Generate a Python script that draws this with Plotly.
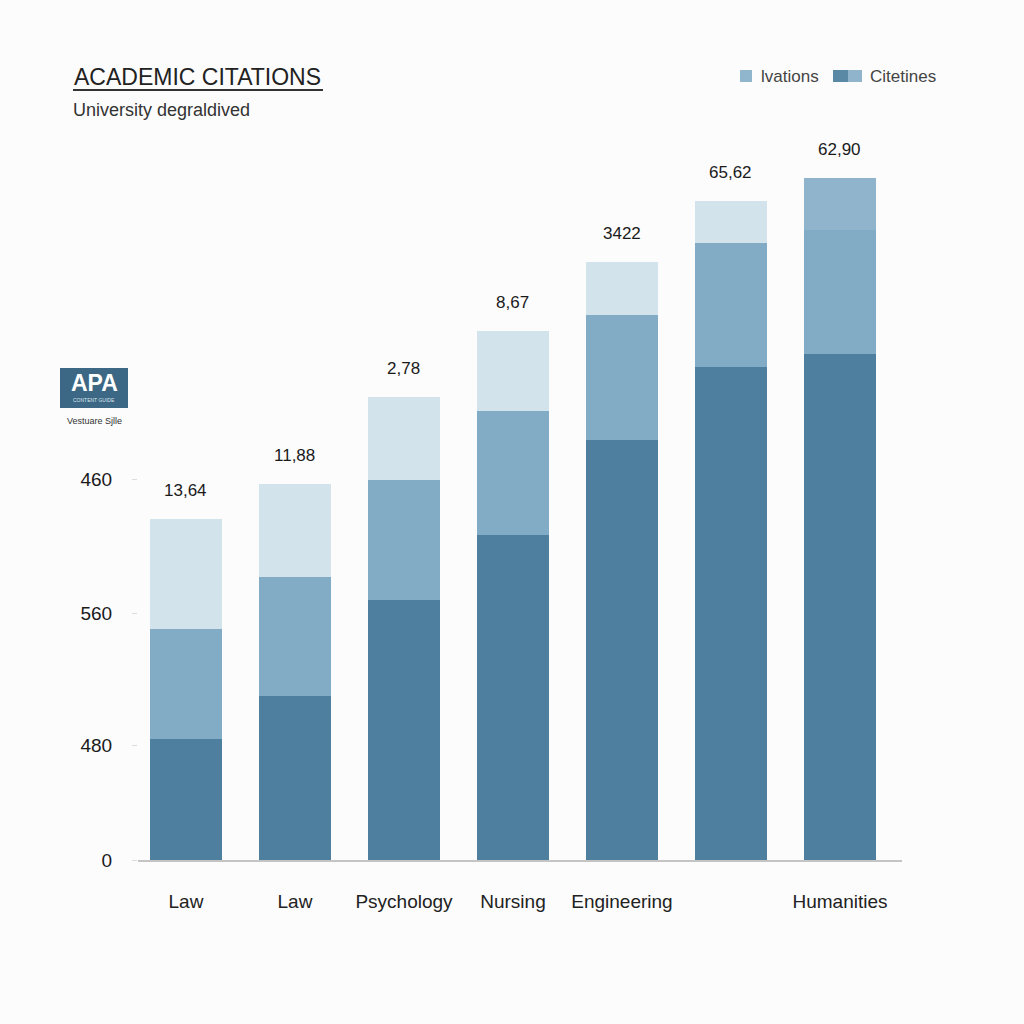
import plotly.graph_objects as go

# ---- data ----
categories = ["Law", "Law", "Psychology", "Nursing", "Engineering", "", "Humanities"]
base_values = [121, 164, 260, 325, 420, 493, 506]
middle_values = [110, 119, 120, 124, 125, 124, 124]
top_values = [110, 93, 83, 80, 53, 42, 52]
value_labels = ["13,64", "11,88", "2,78", "8,67", "3422", "65,62", "62,90"]
y_tick_vals = [0, 115, 247, 381]
y_tick_text = ["0", "480", "560", "460"]
legend_names = ["lvations", "Citetines"]

DARK = "#4e7f9e"
MID = "#82abc5"
LIGHT = "#d3e3ec"
top_colors = [LIGHT] * 6 + ["#8fb4cc"]

x = list(range(len(categories)))
FONT = "Liberation Sans, Arial, sans-serif"

fig = go.Figure()
fig.add_trace(go.Bar(x=x, y=base_values, marker=dict(color=DARK, line=dict(width=0)),
                     width=0.66, showlegend=False, hoverinfo="y"))
fig.add_trace(go.Bar(x=x, y=middle_values, marker=dict(color=MID, line=dict(width=0)),
                     width=0.66, showlegend=False, hoverinfo="y"))
fig.add_trace(go.Bar(x=x, y=top_values, marker=dict(color=top_colors, line=dict(width=0)),
                     width=0.66, showlegend=False, hoverinfo="y"))

totals = [a + b + c for a, b, c in zip(base_values, middle_values, top_values)]
annotations = []
for xi, tot, lab in zip(x, totals, value_labels):
    annotations.append(dict(x=xi, y=tot, text=lab, showarrow=False, yshift=29,
                            xref="x", yref="y",
                            font=dict(size=17, color="#1a1a1a", family=FONT)))

W, H = 1024, 1024
l, r, t, b = 138, 122, 140, 164
pw, ph = W - l - r, H - t - b
def px(xp):
    return (xp - l) / pw
def py(yp):
    return (H - b - yp) / ph

def pa(xp, yp, text, size, color, anchor="left"):
    return dict(x=px(xp), y=py(yp), xref="paper", yref="paper", text=text,
                showarrow=False, xanchor=anchor, yanchor="middle",
                font=dict(size=size, color=color, family=FONT))

# title & subtitle
annotations.append(pa(72, 77, "ACADEMIC CITATIONS", 23, "#222222"))
annotations.append(pa(71, 110, "University degraldived", 18, "#333333"))
# legend (custom)
annotations.append(pa(759, 76, legend_names[0], 17, "#444444"))
annotations.append(pa(868, 76, legend_names[1], 17, "#444444"))
# APA badge
annotations.append(pa(94, 383, "<b>APA</b>", 23, "#ffffff", "center"))
annotations.append(pa(94, 400, "CONTENT GUIDE", 5, "#d8e4ec", "center"))
annotations.append(pa(94, 421, "Vestuare Sjlle", 9, "#333333", "center"))

fig.update_layout(
    width=W, height=H,
    margin=dict(l=l, r=r, t=t, b=b),
    paper_bgcolor="#fcfcfc", plot_bgcolor="#fcfcfc",
    barmode="stack", bargap=0.34,
    font=dict(family=FONT),
    xaxis=dict(range=[-0.44, 6.569], tickvals=x, ticktext=categories,
               showgrid=False, zeroline=False, showline=True, linecolor="#c4c4c4", linewidth=1.5,
               ticks="", ticklabelstandoff=23,
               tickfont=dict(size=19, color="#222222", family=FONT)),
    yaxis=dict(range=[0, 720], tickvals=y_tick_vals, ticktext=y_tick_text,
               showgrid=False, zeroline=False, showline=False,
               ticks="outside", ticklen=5, tickcolor="#dddddd", ticklabelstandoff=16,
               tickfont=dict(size=19, color="#1a1a1a", family=FONT)),
)

shapes = [
    dict(type="line", xref="paper", yref="paper", x0=px(73), x1=px(323), y0=py(90), y1=py(90),
         line=dict(color="#333333", width=2)),
    dict(type="rect", xref="paper", yref="paper", x0=px(740), x1=px(752), y0=py(82), y1=py(70),
         fillcolor="#8fb6cc", line=dict(width=0)),
    dict(type="rect", xref="paper", yref="paper", x0=px(833), x1=px(848), y0=py(82), y1=py(70),
         fillcolor="#5a89a6", line=dict(width=0)),
    dict(type="rect", xref="paper", yref="paper", x0=px(848), x1=px(862), y0=py(82), y1=py(70),
         fillcolor="#8fb4cc", line=dict(width=0)),
    dict(type="rect", xref="paper", yref="paper", x0=px(60), x1=px(128), y0=py(408), y1=py(368),
         fillcolor="#3d6885", line=dict(width=0)),
]

fig.update_layout(annotations=annotations, shapes=shapes)
fig.write_html("out.html")
